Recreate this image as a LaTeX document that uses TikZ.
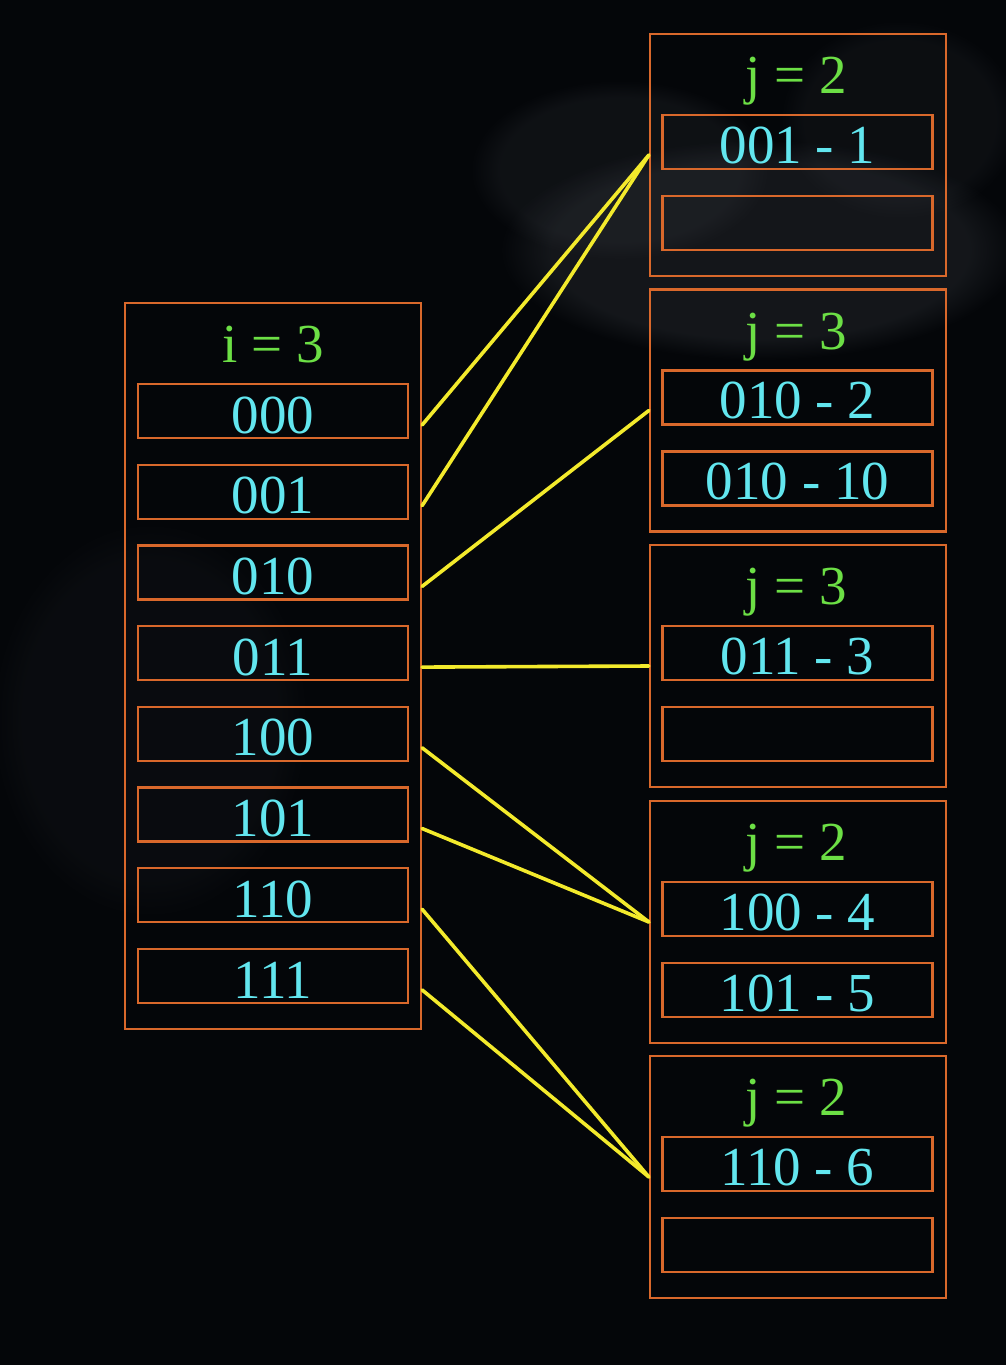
\documentclass[tikz,border=0pt]{standalone}
\usepackage{fontspec}
\setmainfont{Liberation Serif}
\usetikzlibrary{calc,fadings}
\definecolor{bgc}{HTML}{040609}
\definecolor{boxc}{HTML}{D9682B}
\definecolor{cyanc}{HTML}{62E6EF}
\definecolor{greenc}{HTML}{6CDF45}
\definecolor{linkc}{HTML}{F3EA2C}
\definecolor{smoke}{HTML}{3A3E44}
\tikzset{
  outerbox/.style={draw=boxc, line width=2.2pt, minimum width=296pt, inner sep=0pt},
  slotbox/.style={draw=boxc, line width=2.2pt, minimum width=270pt, minimum height=54pt, inner sep=0pt},
  slottext/.style={text=cyanc, font=\fontsize{55}{55}\selectfont, anchor=base},
  titletext/.style={text=greenc, font=\fontsize{55}{55}\selectfont, anchor=base},
  link/.style={draw=linkc, line width=3.6pt, line cap=round}
}
\begin{document}
\begin{tikzpicture}[x=1pt,y=-1pt]
\useasboundingbox (0,0) rectangle (1006,1365);
\fill[bgc] (0,0) rectangle (1006,1365);
% faint smoke
\fill[smoke, opacity=0.3, path fading=circle with fuzzy edge 20 percent] (760,250) ellipse (260 and 110);
\fill[smoke, opacity=0.2, path fading=circle with fuzzy edge 20 percent] (620,170) ellipse (150 and 90);
\fill[smoke, opacity=0.15, path fading=circle with fuzzy edge 20 percent] (900,120) ellipse (120 and 100);
\fill[smoke, opacity=0.1, path fading=circle with fuzzy edge 20 percent] (150,720) ellipse (160 and 200);

% left directory
\node[outerbox, minimum height=726pt] (L) at (273,666) {};
\node[titletext] (Lt) at (273,362) {i = 3};
\foreach \lab [count=\k from 0] in {000,001,010,011,100,101,110,111} {
  \node[slotbox] (r\k) at (273,{411+80.7*\k}) {};
  \node[slottext] (rt\k) at ($(r\k.south)+(0,-6)$) {\lab};
  \coordinate (s\k) at ([yshift=-14pt]r\k.center -| L.east);
}

% right buckets
\foreach \cy/\j/\a/\b [count=\n] in {155/2/001 - 1/, 410.5/3/010 - 2/010 - 10, 666/3/011 - 3/, 922/2/100 - 4/101 - 5, 1177/2/110 - 6/} {
  \node[outerbox, minimum height=242pt] (b\n) at (798,\cy) {};
  \node[titletext] (bt\n) at ($(b\n.north)+(-2,61)$) {j = \j};
  \node[slotbox] (b\n a) at (797.5,{\cy-13}) {};
  \node[slotbox] (b\n b) at (797.5,{\cy+68}) {};
  \node[slottext] (b\n at) at ($(b\n a.south)+(0,-7)$) {\a};
  \node[slottext] (b\n bt) at ($(b\n b.south)+(0,-7)$) {\b};
}

% links
\draw[link] (s0) -- (b1.west);
\draw[link] (s1) -- (b1.west);
\draw[link] (s2) -- (b2.west);
\draw[link] (s3) -- (b3.west);
\draw[link] (s4) -- (b4.west);
\draw[link] (s5) -- (b4.west);
\draw[link] (s6) -- (b5.west);
\draw[link] (s7) -- (b5.west);
\end{tikzpicture}
\end{document}
